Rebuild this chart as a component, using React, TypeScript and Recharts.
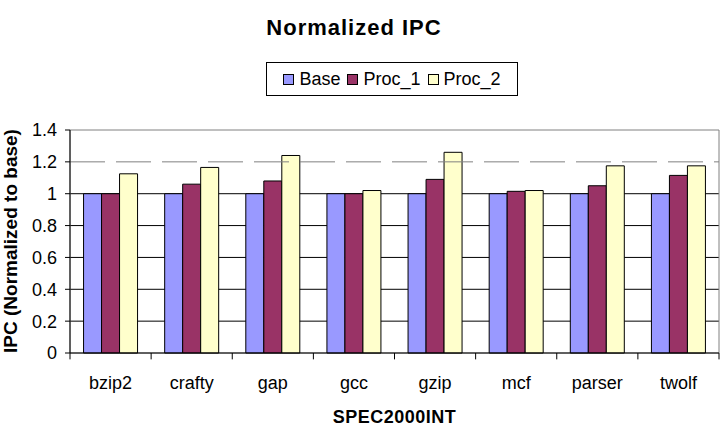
import { BarChart, Bar, XAxis, YAxis, CartesianGrid, ReferenceLine, ReferenceArea } from 'recharts'

const categories = ['bzip2', 'crafty', 'gap', 'gcc', 'gzip', 'mcf', 'parser', 'twolf']
const baseValues = [1, 1, 1, 1, 1, 1, 1, 1]
const proc1Values = [1.0, 1.06, 1.08, 1.0, 1.09, 1.015, 1.05, 1.115]
const proc2Values = [1.125, 1.165, 1.24, 1.02, 1.26, 1.02, 1.175, 1.175]
const yTicks = [0, 0.2, 0.4, 0.6, 0.8, 1, 1.2, 1.4]
const boundaryTicks = [0, 1, 2, 3, 4, 5, 6, 7, 8]

const series = [
  { key: 'Base', color: '#9999ff' },
  { key: 'Proc_1', color: '#993366' },
  { key: 'Proc_2', color: '#ffffcc' },
]

const data = categories.map((name, i) => ({
  name,
  idx: i + 0.5,
  Base: baseValues[i],
  Proc_1: proc1Values[i],
  Proc_2: proc2Values[i],
}))

const font = '"Liberation Sans", Arial, sans-serif'

export default function App() {
  return (
    <div
      style={{
        position: 'absolute',
        left: 0,
        top: 0,
        width: 724,
        height: 426,
        background: '#fff',
        fontFamily: font,
      }}
    >
      <div
        style={{
          position: 'absolute',
          top: 15,
          left: 0,
          width: 708,
          textAlign: 'center',
          fontSize: 22,
          fontWeight: 'bold',
          letterSpacing: 1,
        }}
      >
        Normalized IPC
      </div>
      <div
        style={{
          position: 'absolute',
          top: 62,
          left: 266,
          width: 250,
          height: 32,
          border: '1px solid #000',
          display: 'flex',
          alignItems: 'center',
          justifyContent: 'center',
          gap: 7,
          fontSize: 18,
        }}
      >
        {series.map((s) => (
          <span key={s.key} style={{ display: 'flex', alignItems: 'center' }}>
            <span
              style={{
                display: 'inline-block',
                width: 9,
                height: 9,
                background: s.color,
                border: '1px solid #000',
                marginRight: 5,
              }}
            />
            {s.key}
          </span>
        ))}
      </div>
      <BarChart
        width={724}
        height={426}
        data={data}
        margin={{ top: 130, right: 5, bottom: 0, left: 0 }}
        barCategoryGap="16.7%"
        barGap={0}
      >
        <CartesianGrid
          vertical={false}
          horizontalValues={[0.2, 0.4, 0.6, 0.8, 1]}
          stroke="#000"
          strokeOpacity={1}
        />
        <ReferenceArea y1={0} y2={1.4} fill="none" stroke="#808080" ifOverflow="visible" />
        <ReferenceLine y={1.2} stroke="#808080" strokeDasharray="35 11" />
        <XAxis xAxisId="bounds" type="number" dataKey="idx" domain={[0, 8]} hide />
        <XAxis
          dataKey="name"
          height={73}
          tickLine={false}
          axisLine={{ stroke: '#000' }}
          tickMargin={17}
          tick={{ fill: '#000', fontSize: 18, fontFamily: font }}
          label={{
            value: 'SPEC2000INT',
            position: 'insideBottom',
            offset: 3,
            fill: '#000',
            fontSize: 18,
            fontWeight: 'bold',
            fontFamily: font,
            letterSpacing: 0.5,
          }}
        />
        <YAxis
          width={70}
          domain={[0, 1.4]}
          ticks={yTicks}
          interval={0}
          tickSize={5}
          tickMargin={8}
          stroke="#000"
          axisLine={{ stroke: '#000' }}
          tick={{ fill: '#000', fontSize: 18, fontFamily: font }}
          label={{
            content: () => (
              <text
                x={10}
                y={241}
                transform="rotate(-90 10 241)"
                textAnchor="middle"
                dominantBaseline="central"
                fontSize={19}
                fontWeight="bold"
                fontFamily={font}
                fill="#000"
              >
                IPC (Normalized to base)
              </text>
            ),
          }}
        />
        {boundaryTicks.map((b) => (
          <ReferenceLine
            key={b}
            xAxisId="bounds"
            segment={[
              { x: b, y: 0 },
              { x: b, y: -0.04 },
            ]}
            stroke="#000"
            ifOverflow="visible"
          />
        ))}
        {series.map((s) => (
          <Bar
            key={s.key}
            dataKey={s.key}
            fill={s.color}
            stroke="#000"
            strokeWidth={1}
            isAnimationActive={false}
          />
        ))}
      </BarChart>
    </div>
  )
}
